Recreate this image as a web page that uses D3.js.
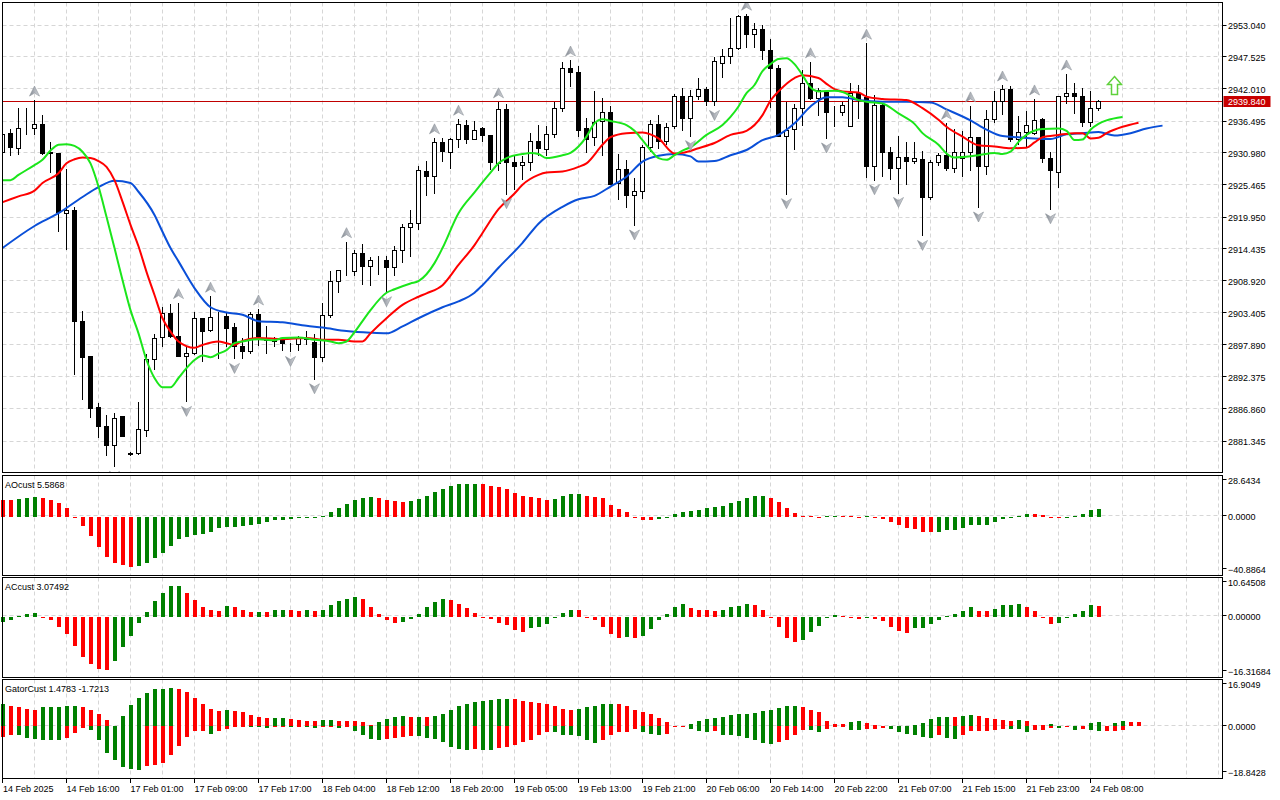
<!DOCTYPE html>
<html>
<head>
<meta charset="utf-8">
<script src="https://cdn.jsdelivr.net/npm/d3@7"></script>
<style>
  body { margin: 0; background: #fff; }
  svg { display: block; }
  text { font-family: "Liberation Sans", Arial, sans-serif; font-size: 9px; fill: #000; }
</style>
</head>
<body>
<svg id="chart" width="1280" height="800"></svg>
<script>
// H1 bars, [open, high, low, close]
const ohlc = [
  [2930.9,2934.4,2930.6,2934.1],[2934.2,2935.1,2930.4,2931.8],[2931.6,2938.7,2930.6,2935.1],[2935.1,2938.7,2934.1,2935.2],
  [2935.1,2940.1,2934.1,2935.8],[2935.8,2937.5,2930.7,2930.8],[2931.0,2932.9,2927.6,2930.8],[2930.8,2930.9,2917.4,2920.6],
  [2920.5,2928.3,2914.2,2920.9],[2920.9,2921.6,2892.7,2901.8],[2901.9,2903.8,2888.4,2895.7],[2895.8,2895.9,2885.3,2886.8],
  [2887.0,2887.9,2881.9,2883.7],[2883.8,2885.8,2878.7,2880.4],[2880.4,2886.1,2876.8,2885.1],[2885.4,2885.6,2882.0,2882.1],
  [2879.1,2879.5,2878.7,2879.0],[2879.1,2888.1,2878.9,2883.3],[2883.1,2896.4,2882.1,2895.3],[2895.3,2899.7,2893.5,2898.9],
  [2899.1,2904.4,2897.5,2903.2],[2903.2,2905.0,2899.1,2899.2],[2899.2,2905.2,2895.8,2895.9],[2895.9,2897.8,2888.0,2896.3],
  [2896.3,2903.5,2896.2,2902.3],[2902.3,2902.5,2894.9,2900.1],[2900.3,2906.3,2900.2,2902.5],[2902.6,2903.5,2895.5,2902.5],
  [2902.7,2903.4,2897.6,2900.7],[2900.9,2901.6,2895.4,2897.6],[2897.5,2899.1,2895.5,2896.6],[2896.6,2903.6,2896.3,2903.1],
  [2903.1,2904.1,2897.8,2899.2],[2898.9,2901.2,2896.3,2898.5],[2898.5,2899.3,2897.6,2898.4],[2898.5,2899.3,2896.9,2898.0],
  [2898.1,2898.3,2896.6,2898.0],[2897.9,2899.5,2896.9,2898.9],[2898.9,2900.3,2897.9,2898.8],[2898.3,2899.7,2891.9,2895.6],
  [2895.6,2905.1,2895.0,2902.9],[2902.9,2910.7,2902.5,2908.7],[2908.7,2910.8,2906.9,2910.6],[2910.6,2915.7,2909.8,2910.7],
  [2910.5,2914.3,2909.7,2913.5],[2913.5,2915.3,2908.2,2911.4],[2911.4,2913.1,2908.1,2912.3],[2912.3,2913.2,2910.0,2912.4],
  [2912.4,2913.2,2906.9,2911.1],[2911.1,2915.0,2909.7,2914.1],[2914.1,2918.8,2912.0,2918.0],[2918.0,2921.2,2913.1,2918.7],
  [2918.7,2928.7,2917.7,2927.9],[2927.7,2929.6,2923.5,2926.9],[2926.9,2933.6,2923.9,2932.7],[2932.7,2933.6,2929.5,2931.1],
  [2930.9,2933.6,2928.3,2933.2],[2933.2,2936.8,2931.8,2935.8],[2935.6,2936.7,2932.5,2933.3],[2933.2,2936.5,2933.2,2934.8],
  [2935.1,2935.4,2932.8,2933.9],[2933.9,2934.1,2928.1,2929.2],[2929.0,2939.8,2927.8,2938.4],[2938.4,2939.5,2923.8,2929.2],
  [2929.2,2930.4,2924.6,2928.6],[2928.7,2930.4,2926.3,2929.2],[2929.3,2934.4,2927.8,2932.8],[2932.8,2935.8,2930.4,2931.6],
  [2931.5,2935.6,2930.4,2934.0],[2934.1,2939.8,2933.5,2938.5],[2938.5,2946.6,2938.1,2945.4],[2945.4,2947.0,2942.4,2944.7],
  [2944.7,2946.0,2933.8,2934.8],[2935.1,2937.0,2931.0,2933.3],[2933.5,2941.7,2932.2,2936.1],[2936.3,2940.4,2930.4,2937.9],
  [2937.9,2939.1,2925.4,2925.5],[2925.6,2930.8,2922.9,2928.1],[2928.1,2929.8,2921.5,2923.6],[2923.6,2926.6,2918.4,2924.3],
  [2924.3,2932.3,2923.1,2931.8],[2931.8,2936.6,2931.2,2935.8],[2935.8,2937.5,2931.6,2932.9],[2932.9,2936.2,2932.3,2935.3],
  [2935.4,2941.1,2935.2,2940.7],[2940.7,2942.1,2934.7,2936.8],[2936.8,2941.8,2933.8,2940.7],[2940.7,2943.9,2940.2,2941.8],
  [2941.8,2942.4,2939.1,2939.7],[2939.8,2947.6,2939.0,2946.6],[2946.4,2948.9,2943.9,2947.5],[2947.5,2954.2,2946.3,2948.9],
  [2948.9,2954.8,2948.7,2954.4],[2954.4,2954.9,2949.1,2951.4],[2951.4,2953.3,2949.0,2952.1],[2952.1,2953.0,2947.0,2948.6],
  [2948.6,2950.7,2938.7,2945.4],[2945.4,2946.2,2933.7,2933.8],[2933.8,2939.8,2923.8,2934.7],[2934.9,2939.4,2931.5,2938.5],
  [2938.5,2945.2,2935.6,2942.8],[2942.8,2946.7,2940.1,2940.3],[2940.3,2942.1,2937.3,2941.6],[2941.3,2941.8,2933.4,2937.8],
  [2937.8,2939.1,2935.4,2937.9],[2937.8,2939.8,2937.3,2939.1],[2935.4,2943.0,2935.4,2941.2],[2941.2,2942.7,2936.8,2940.1],
  [2940.4,2949.9,2926.7,2928.6],[2928.6,2941.0,2926.2,2939.1],[2939.1,2939.5,2926.9,2930.9],[2930.9,2932.1,2926.3,2928.3],
  [2928.3,2933.9,2924.0,2930.1],[2930.1,2932.9,2925.4,2929.5],[2929.5,2932.9,2929.1,2929.9],[2929.8,2931.3,2916.6,2923.2],
  [2923.2,2929.7,2922.9,2929.2],[2929.2,2930.9,2928.8,2930.5],[2930.5,2936.1,2927.9,2928.3],[2928.3,2935.1,2927.5,2930.9],
  [2929.9,2934.7,2926.9,2930.9],[2930.9,2939.1,2927.9,2933.5],[2933.5,2933.6,2921.5,2928.6],[2928.5,2938.4,2927.2,2936.6],
  [2936.6,2941.6,2936.1,2939.7],[2939.7,2942.7,2937.5,2941.8],[2941.8,2942.5,2932.9,2933.3],[2933.3,2937.3,2932.4,2934.5],
  [2934.5,2938.2,2932.1,2935.7],[2934.3,2940.3,2934.1,2936.5],[2936.7,2937.0,2929.2,2929.9],[2929.9,2931.1,2921.2,2927.8],
  [2927.6,2940.7,2924.9,2940.6],[2940.6,2944.6,2939.5,2941.1],[2941.1,2943.0,2937.7,2940.7],[2940.6,2942.1,2935.4,2936.2],
  [2936.1,2941.7,2935.4,2938.5],[2938.5,2940.1,2938.3,2939.84]
];

// Alligator lines as [bar, price] (shifted forward past the last bar)
const jawPoints = [
  [0,2914.6],[4,2918.4],[7,2920.6],[10,2923.4],[12,2925.1],[14,2926.2],[16,2925.8],[17,2924.3],[19,2920.3],[20,2917.4],
  [21,2914.6],[22,2912.3],[24,2907.7],[26,2904.4],[28,2903.5],[30,2903.1],[32,2902.0],[35,2901.8],[38,2901.2],[40,2900.9],
  [43,2900.3],[46,2900.0],[48,2899.9],[50,2901.1],[52,2902.5],[55,2904.4],[57,2905.4],[59,2906.9],[60,2908.2],[62,2911.2],
  [65,2915.5],[67,2918.8],[70,2921.7],[72,2923.0],[74,2923.6],[76,2925.2],[78,2926.9],[80,2929.5],[82,2930.5],[84,2930.8],
  [86,2930.4],[87,2929.5],[89,2929.6],[91,2930.6],[93,2931.5],[95,2933.2],[97,2934.1],[99,2936.1],[101,2939.0],[103,2940.6],
  [105,2940.6],[107,2940.1],[110,2939.8],[113,2939.8],[116,2939.7],[118,2938.5],[121,2936.6],[123,2935.0],[125,2933.9],[127,2933.7],
  [129,2933.5],[131,2933.4],[133,2934.2],[135,2934.4],[137,2934.6],[139,2934.0],[141,2934.4],[143,2935.2],[145,2935.7]
];
const teethPoints = [
  [0,2922.5],[2,2923.5],[4,2924.5],[5,2925.8],[7,2927.5],[8,2929.2],[9,2929.9],[10,2930.2],[11,2930.1],[12,2929.6],
  [13,2928.6],[14,2926.3],[15,2922.6],[16,2918.6],[17,2914.9],[18,2910.5],[19,2906.5],[20,2902.5],[21,2900.2],[22,2898.5],
  [24,2897.4],[25,2897.9],[27,2898.5],[28,2898.2],[29,2897.9],[30,2898.6],[32,2899.1],[35,2898.9],[38,2899.1],[40,2898.8],
  [42,2898.8],[44,2898.5],[45,2898.5],[46,2899.9],[48,2902.5],[50,2904.8],[52,2906.2],[53,2906.8],[55,2908.2],[57,2911.7],
  [59,2915.1],[60,2917.2],[62,2921.3],[64,2924.0],[65,2925.5],[67,2927.2],[68,2927.6],[70,2927.8],[72,2928.6],[73,2929.2],
  [75,2932.4],[76,2933.7],[78,2934.4],[80,2934.5],[81,2934.2],[82,2933.5],[84,2930.9],[85,2931.0],[87,2931.8],[89,2932.7],
  [91,2934.1],[93,2934.8],[95,2937.5],[96,2940.0],[97,2941.6],[99,2943.9],[100,2944.4],[102,2943.9],[103,2942.9],[104,2942.0],
  [105,2941.6],[107,2941.4],[108,2940.7],[110,2940.3],[113,2940.1],[115,2938.7],[117,2936.7],[118,2935.5],[120,2933.8],[122,2932.3],
  [124,2932.1],[126,2931.8],[128,2931.9],[129,2932.8],[130,2933.7],[132,2934.1],[134,2934.4],[135,2934.4],[136,2933.5],[137,2933.6],
  [138,2934.4],[140,2935.5],[142,2936.2]
];
const lipsPoints = [
  [0,2926.3],[1,2926.3],[2,2927.2],[4,2928.9],[5,2929.8],[6,2931.4],[7,2932.4],[8,2932.5],[9,2932.2],[10,2931.2],
  [11,2929.2],[12,2925.2],[13,2920.0],[14,2914.6],[15,2909.1],[16,2903.9],[17,2899.9],[18,2895.3],[19,2892.2],[20,2890.6],
  [21,2890.6],[22,2892.2],[23,2893.9],[24,2895.3],[25,2896.1],[26,2895.8],[27,2896.4],[28,2897.0],[29,2898.2],[30,2898.5],
  [32,2898.9],[34,2898.7],[35,2899.1],[37,2899.2],[39,2898.8],[41,2898.5],[42,2898.2],[43,2898.5],[44,2900.1],[45,2902.0],
  [46,2903.9],[48,2906.9],[49,2907.5],[51,2908.5],[52,2908.9],[54,2912.0],[55,2914.6],[57,2920.6],[59,2924.2],[61,2927.6],
  [62,2929.2],[63,2930.1],[65,2930.8],[66,2931.0],[67,2930.8],[68,2930.1],[70,2930.6],[71,2931.0],[72,2932.1],[73,2933.8],
  [74,2936.1],[75,2936.8],[76,2936.5],[78,2935.8],[79,2934.8],[80,2933.2],[81,2931.5],[82,2930.1],[83,2929.8],[84,2930.6],
  [85,2931.4],[86,2932.0],[88,2934.1],[90,2935.8],[91,2937.2],[92,2939.0],[93,2941.3],[94,2942.7],[95,2945.1],[96,2946.3],
  [97,2947.2],[98,2947.3],[99,2946.3],[100,2944.4],[101,2942.3],[102,2941.6],[104,2941.7],[105,2941.5],[107,2940.1],[108,2939.8],
  [110,2939.5],[112,2937.8],[114,2936.0],[115,2934.4],[117,2932.4],[118,2930.9],[119,2930.2],[121,2930.4],[122,2930.6],[124,2931.0],
  [125,2930.8],[126,2931.2],[127,2932.9],[128,2934.1],[130,2935.1],[132,2935.2],[133,2934.8],[134,2933.2],[135,2933.3],[136,2935.0],
  [137,2936.0],[138,2936.6],[140,2937.2]
];

const fractalUpBars = [4, 22, 26, 32, 43, 54, 57, 62, 71, 93, 101, 108, 118, 121, 125, 129, 133];
const fractalDownBars = [14, 23, 29, 36, 39, 48, 63, 79, 86, 89, 98, 103, 109, 112, 115, 122, 131];
const signalArrow = [139, 2942.6];

const aoValues = [
  11.6,11.5,12.3,13.0,13.7,13.0,11.8,9.5,5.9,-0.2,
  -6.6,-13.7,-20.8,-27.9,-32.2,-33.8,-35.0,-34.3,-32.2,-28.6,
  -25.1,-20.1,-15.8,-14.4,-12.8,-11.8,-10.9,-8.0,-7.3,-7.1,
  -6.6,-5.9,-5.0,-3.8,-2.6,-2.1,-1.4,-0.7,-0.5,-0.2,
  0.5,3.5,5.9,8.7,11.6,12.8,13.5,12.8,11.6,10.6,
  9.9,11.1,12.3,14.2,17.0,19.4,21.5,22.5,22.8,23.0,
  22.9,21.3,20.6,19.4,16.5,14.4,13.9,13.0,11.8,12.3,
  14.4,15.6,15.7,14.2,13.7,13.0,8.0,5.2,3.3,-0.2,
  -2.4,-2.5,-1.4,-0.2,1.7,3.1,4.0,4.7,6.1,6.9,
  7.6,9.5,11.1,13.0,14.4,14.5,13.0,10.2,5.9,2.4,
  0.3,0.2,0.1,0.2,0.7,0.6,0.4,0.1,0.2,-0.9,
  -1.7,-3.8,-5.9,-7.8,-8.5,-10.6,-10.9,-10.6,-9.5,-9.2,
  -8.0,-5.9,-5.8,-5.7,-3.8,-1.9,-0.5,0.5,2.1,2.0,
  0.9,-0.2,-0.7,-0.5,0.7,2.1,4.5,5.5868
];
const acValues = [
  -1.3,-0.8,0.2,0.9,1.2,-0.1,-0.8,-2.8,-4.7,-7.8,
  -10.9,-12.8,-14.1,-14.2,-12.0,-8.2,-5.0,-1.7,1.3,4.2,
  6.5,8.3,8.4,6.5,4.5,2.6,2.0,1.6,2.9,2.6,
  2.0,1.3,1.35,1.3,1.8,2.0,1.8,1.65,1.8,1.6,
  2.0,3.1,4.2,4.9,5.3,4.8,2.8,0.9,-0.9,-1.5,
  -1.4,-0.6,0.9,2.8,4.0,4.8,4.5,3.4,2.3,1.2,
  -0.1,-0.6,-1.5,-2.2,-3.4,-4.0,-3.1,-2.8,-2.0,-0.4,
  1.2,1.9,1.8,-0.1,-0.9,-2.8,-4.5,-5.6,-5.4,-5.7,
  -5.0,-3.2,-0.9,0.9,2.8,3.4,2.3,2.0,1.8,1.5,
  1.8,2.8,2.85,3.4,3.1,2.0,-0.05,-2.7,-5.7,-6.8,
  -6.2,-4.0,-2.3,0.1,0.6,0.3,-0.4,-0.6,-0.4,-0.65,
  -1.2,-2.6,-3.8,-4.2,-3.1,-2.9,-2.0,-0.7,0.3,0.9,
  1.7,2.6,1.7,1.5,2.1,3.1,3.15,3.4,2.8,1.6,
  -0.1,-2.0,-1.7,-0.1,0.9,1.7,3.15,3.07492
];
const gatorUpper = [
  8.1,7.2,6.8,6.2,5.9,6.8,6.9,7.0,7.2,7.3,
  6.8,5.9,4.4,2.4,0.2,3.9,7.8,10.2,11.9,13.4,
  13.5,13.7,13.4,12.3,10.2,8.2,6.2,5.4,5.9,5.5,
  5.3,4.2,3.5,3.0,3.05,3.1,2.6,2.3,2.0,1.95,
  2.2,2.4,2.0,1.9,1.8,1.7,0.6,1.4,2.6,3.3,
  3.7,3.3,3.4,3.3,3.6,4.4,5.9,7.2,8.1,8.7,
  9.2,9.4,9.8,9.9,9.8,9.0,8.6,8.4,8.1,7.2,
  6.2,5.9,6.2,6.8,7.2,8.0,8.2,8.1,7.4,5.9,
  5.3,4.4,3.0,1.6,0.2,0.25,1.0,2.0,2.7,3.1,
  3.3,4.1,4.3,4.5,4.8,5.4,5.9,6.6,7.2,7.3,
  6.9,5.9,5.1,2.0,1.0,0.95,1.7,2.0,1.2,0.5,
  0.2,0.25,0.1,0.05,0.6,1.2,2.7,3.2,3.35,3.3,
  3.7,4.2,3.9,3.0,2.7,2.2,2.0,2.3,2.0,0.6,
  0.5,0.7,0.05,0.02,0.1,0.05,1.2,1.4783,0.1,1.2,
  2.0,1.67,1.6
];
const gatorLower = [
  -3.8,-3.0,-3.3,-4.2,-4.5,-4.8,-4.85,-4.9,-4.2,-2.4,
  -0.6,-1.2,-4.8,-9.6,-12.3,-14.6,-15.5,-15.6,-14.3,-14.1,
  -13.1,-10.2,-7.0,-3.8,-1.8,-1.6,-2.6,-1.8,-0.8,-0.4,
  -0.2,-0.25,-0.3,-0.6,-0.3,-0.2,-0.25,-0.2,-0.25,-0.6,
  -0.3,-0.25,-0.6,-0.3,-1.6,-3.0,-4.4,-4.8,-4.4,-4.2,
  -3.8,-3.4,-3.5,-4.2,-4.4,-5.7,-7.4,-8.1,-8.4,-8.3,
  -8.4,-8.5,-8.0,-7.4,-6.6,-5.7,-4.8,-3.2,-2.1,-2.2,
  -3.0,-3.2,-3.4,-4.8,-6.2,-5.0,-3.0,-2.1,-1.9,-0.8,
  -2.0,-2.6,-3.0,-2.6,-0.2,-0.1,-1.0,-1.8,-2.2,-1.8,
  -3.0,-3.2,-3.6,-4.2,-5.1,-6.2,-6.3,-5.7,-5.1,-3.2,
  -1.2,-1.25,-2.2,-0.8,-0.1,-0.05,-1.4,-1.45,-1.0,-0.95,
  -0.6,-0.8,-2.0,-2.6,-3.2,-3.9,-4.2,-3.3,-4.2,-4.4,
  -3.2,-1.8,-1.75,-1.6,-1.4,-0.8,-0.85,-0.9,-2.2,-1.2,
  -1.15,-0.6,-0.65,-0.4,-1.2,-1.1,-1.2,-1.7213,-1.7,-1.55,
  -1.5
];

const priceTicks = [2953.040, 2947.525, 2942.010, 2936.495, 2930.980, 2925.465, 2919.950,
  2914.435, 2908.920, 2903.405, 2897.890, 2892.375, 2886.860, 2881.345];
// one time label every 8 bars, starting at bar 0
const timeLabels = ["14 Feb 2025", "14 Feb 16:00", "17 Feb 01:00", "17 Feb 09:00", "17 Feb 17:00",
  "18 Feb 04:00", "18 Feb 12:00", "18 Feb 20:00", "19 Feb 05:00", "19 Feb 13:00", "19 Feb 21:00",
  "20 Feb 06:00", "20 Feb 14:00", "20 Feb 22:00", "21 Feb 07:00", "21 Feb 15:00", "21 Feb 23:00",
  "24 Feb 08:00"];

const gridColor = "#d6d6d6";
const upColor = "#008000";
const downColor = "#ff0000";
const jawColor = "#0a4fd8";
const teethColor = "#ff0000";
const lipsColor = "#1be61b";
const axisRight = 1222.5;
const labelX = 1228;

const svg = d3.select("#chart");
const x = d3.scaleLinear().domain([0, 152]).range([2.5, 1218.5]);
const y = d3.scaleLinear().domain([2953.04, 2881.345]).range([25, 441]);
const crisp = (v) => Math.floor(v) + 0.5;

const mainTop = 2.5, mainBottom = 472.5;

function drawVerticalGrid(g, top, bottom) {
  g.append("g")
    .selectAll("line")
    .data(d3.range(4, 153, 4))
    .join("line")
    .attr("x1", (d) => x(d))
    .attr("x2", (d) => x(d))
    .attr("y1", top)
    .attr("y2", bottom)
    .attr("stroke", gridColor)
    .attr("stroke-dasharray", "4,3");
}

function drawFrame(top, bottom) {
  svg.append("rect")
    .attr("x", 2.5).attr("y", top)
    .attr("width", axisRight - 2.5).attr("height", bottom - top)
    .attr("fill", "none").attr("stroke", "#000");
}

// ---- main price panel ----
svg.append("clipPath").attr("id", "mainClip")
  .append("rect").attr("x", 3).attr("y", 3).attr("width", axisRight - 3.5).attr("height", mainBottom - 3.5);

const main = svg.append("g").attr("clip-path", "url(#mainClip)");
drawVerticalGrid(main, mainTop, mainBottom);

main.append("g")
  .selectAll("line")
  .data(priceTicks)
  .join("line")
  .attr("x1", 2.5).attr("x2", axisRight)
  .attr("y1", (d) => crisp(y(d))).attr("y2", (d) => crisp(y(d)))
  .attr("stroke", gridColor)
  .attr("stroke-dasharray", "4,3");

const lastClose = ohlc[ohlc.length - 1][3];
main.append("line")
  .attr("x1", 2.5).attr("x2", axisRight)
  .attr("y1", crisp(y(lastClose))).attr("y2", crisp(y(lastClose)))
  .attr("stroke", "#c00000");

// candles
const candles = main.append("g")
  .selectAll("g")
  .data(ohlc)
  .join("g");

candles.append("line")
  .attr("x1", (d, i) => x(i)).attr("x2", (d, i) => x(i))
  .attr("y1", (d) => Math.round(y(d[1])))
  .attr("y2", (d) => Math.round(y(d[2])))
  .attr("stroke", "#000");

candles.append("rect")
  .attr("x", (d, i) => x(i) - 2)
  .attr("width", 4)
  .attr("y", (d) => Math.round(y(Math.max(d[0], d[3]))) - 0.5)
  .attr("height", (d) => Math.max(0, Math.round(y(Math.min(d[0], d[3]))) - Math.round(y(Math.max(d[0], d[3])))))
  .attr("fill", (d) => (d[3] >= d[0] ? "#fff" : "#000"))
  .attr("stroke", "#000");

// alligator
const lineGen = d3.line()
  .x((d) => x(d[0]))
  .y((d) => y(d[1]))
  .curve(d3.curveMonotoneX);

[[jawPoints, jawColor], [teethPoints, teethColor], [lipsPoints, lipsColor]].forEach(([pts, color]) => {
  main.append("path")
    .datum(pts)
    .attr("fill", "none")
    .attr("stroke", color)
    .attr("stroke-width", 2)
    .attr("stroke-linejoin", "round")
    .attr("d", lineGen);
});

// fractals
const defs = svg.append("defs");
const fractalGrad = defs.append("linearGradient").attr("id", "fractalGrad")
  .attr("x1", "0%").attr("x2", "100%").attr("y1", "0%").attr("y2", "0%");
fractalGrad.append("stop").attr("offset", "0%").attr("stop-color", "#80868f");
fractalGrad.append("stop").attr("offset", "50%").attr("stop-color", "#aeb2b9");
fractalGrad.append("stop").attr("offset", "100%").attr("stop-color", "#d4d7db");

main.append("g")
  .selectAll("path")
  .data(fractalUpBars)
  .join("path")
  .attr("transform", (d) => `translate(${x(d)},${y(ohlc[d][1]) - 9})`)
  .attr("d", "M0,-5L5,5L0,2L-5,5Z")
  .attr("fill", "url(#fractalGrad)")
  .attr("stroke", "#8d939b")
  .attr("stroke-width", 0.6);

main.append("g")
  .selectAll("path")
  .data(fractalDownBars)
  .join("path")
  .attr("transform", (d) => `translate(${x(d)},${y(ohlc[d][2]) + 9})`)
  .attr("d", "M0,5L5,-5L0,-2L-5,-5Z")
  .attr("fill", "url(#fractalGrad)")
  .attr("stroke", "#8d939b")
  .attr("stroke-width", 0.6);

// buy signal arrow
main.append("path")
  .attr("transform", `translate(${x(signalArrow[0])},${y(signalArrow[1])})`)
  .attr("d", "M0,-9L7,-1L3,-1L3,9L-3,9L-3,-1L-7,-1Z")
  .attr("fill", "#fff")
  .attr("stroke", "#5fd13c")
  .attr("stroke-width", 1.5);

drawFrame(mainTop, mainBottom);

// price axis
const priceAxis = svg.append("g");
priceAxis.selectAll("line")
  .data(priceTicks)
  .join("line")
  .attr("x1", axisRight).attr("x2", axisRight + 4)
  .attr("y1", (d) => crisp(y(d))).attr("y2", (d) => crisp(y(d)))
  .attr("stroke", "#000");
priceAxis.selectAll("text")
  .data(priceTicks)
  .join("text")
  .attr("x", labelX)
  .attr("y", (d) => y(d) + 3.5)
  .text((d) => d3.format(".3f")(d));

svg.append("rect")
  .attr("x", axisRight + 1).attr("y", Math.floor(y(lastClose)) - 5)
  .attr("width", 47).attr("height", 11)
  .attr("fill", "#c80000");
svg.append("text")
  .attr("x", labelX).attr("y", y(lastClose) + 3.5)
  .style("fill", "#fff")
  .text(d3.format(".3f")(lastClose));

// ---- oscillator panels ----
function barColor(values, i, firstUp, useAbs) {
  if (i === 0) return firstUp ? upColor : downColor;
  const cur = useAbs ? Math.abs(values[i]) : values[i];
  const prev = useAbs ? Math.abs(values[i - 1]) : values[i - 1];
  return cur > prev ? upColor : downColor;
}

function drawHistogram(g, values, scale, firstUp, useAbs) {
  const zero = Math.round(scale(0));
  g.append("g")
    .selectAll("rect")
    .data(values)
    .join("rect")
    .attr("x", (d, i) => x(i) - 1.5)
    .attr("width", 4)
    .attr("y", (d) => Math.min(zero, Math.round(scale(d))))
    .attr("height", (d) => Math.max(1, Math.abs(Math.round(scale(d)) - zero)))
    .attr("fill", (d, i) => barColor(values, i, firstUp, useAbs));
}

function drawPanel({ top, bottom, min, max, digits, title, series }) {
  const scale = d3.scaleLinear().domain([min, max]).range([bottom, top]);
  const g = svg.append("g");
  drawVerticalGrid(g, top, bottom);
  g.append("line")
    .attr("x1", 2.5).attr("x2", axisRight)
    .attr("y1", crisp(scale(0)) - 1).attr("y2", crisp(scale(0)) - 1)
    .attr("stroke", gridColor)
    .attr("stroke-dasharray", "4,3");
  series.forEach((s) => drawHistogram(g, s.values, scale, s.firstUp, s.useAbs));
  drawFrame(top, bottom);

  g.append("text").attr("x", 5).attr("y", top + 12).text(title);

  const fmt = d3.format(`.${digits}f`);
  const labels = [[max, top + 5], [0, scale(0)], [min, bottom - 6]];
  labels.forEach(([v, py]) => {
    g.append("line")
      .attr("x1", axisRight).attr("x2", axisRight + 4)
      .attr("y1", crisp(py) - 1).attr("y2", crisp(py) - 1)
      .attr("stroke", "#000");
    g.append("text").attr("x", labelX).attr("y", py + 3.5).text(fmt(v));
  });
}

drawPanel({
  top: 475.5, bottom: 575.5, min: -40.8864, max: 28.6434, digits: 4,
  title: "AOcust 5.5868",
  series: [{ values: aoValues, firstUp: false, useAbs: false }],
});
drawPanel({
  top: 577.5, bottom: 677.5, min: -16.31684, max: 10.64508, digits: 5,
  title: "ACcust 3.07492",
  series: [{ values: acValues, firstUp: true, useAbs: false }],
});
drawPanel({
  top: 679.5, bottom: 778.5, min: -18.8428, max: 16.9049, digits: 4,
  title: "GatorCust 1.4783 -1.7213",
  series: [
    { values: gatorUpper, firstUp: true, useAbs: true },
    { values: gatorLower, firstUp: false, useAbs: true },
  ],
});

// time axis
const timeAxis = svg.append("g");
timeAxis.selectAll("line")
  .data(timeLabels)
  .join("line")
  .attr("x1", (d, i) => x(i * 8)).attr("x2", (d, i) => x(i * 8))
  .attr("y1", 778.5).attr("y2", 783)
  .attr("stroke", "#000");
timeAxis.selectAll("text")
  .data(timeLabels)
  .join("text")
  .attr("x", (d, i) => x(i * 8) + (i === 0 ? 0.5 : 0))
  .attr("y", 792)
  .text((d) => d);
</script>
</body>
</html>
